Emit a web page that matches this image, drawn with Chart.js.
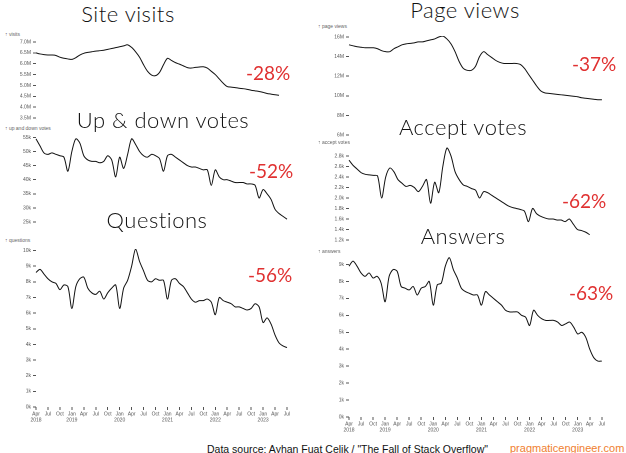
<!DOCTYPE html>
<html><head><meta charset="utf-8">
<script src="https://cdn.jsdelivr.net/npm/chart.js@4"></script>
<style>
body{margin:0;width:626px;height:453px;background:#fff;position:relative;overflow:hidden;font-family:"Liberation Sans",Arial,sans-serif}
canvas{position:absolute}
.t{position:absolute;font-family:Lato,sans-serif;font-weight:300;font-size:22px;color:#111;transform:translateX(-50%);white-space:nowrap;line-height:1;letter-spacing:0.5px}
.p{position:absolute;font-family:Lato,sans-serif;font-size:19px;color:#e03131;line-height:1}
.a{position:absolute;font-size:5px;color:#666;line-height:1;white-space:nowrap}
</style></head><body>
<script>
const monthNames=["Jan","Feb","Mar","Apr","May","Jun","Jul","Aug","Sep","Oct","Nov","Dec"];
const months=[];for(let i=0;i<64;i++){const m=(3+i)%12,y=2018+Math.floor((3+i)/12);months.push(m===0||i===0?[monthNames[m],String(y)]:monthNames[m]);}

const siteVisits=[6.5,6.45,6.42,6.4,6.4,6.38,6.3,6.25,6.22,6.2,6.28,6.4,6.48,6.52,6.55,6.58,6.6,6.62,6.66,6.7,6.74,6.78,6.82,6.87,6.75,6.55,6.3,5.95,5.65,5.48,5.45,5.6,5.95,6.25,6.15,6.05,5.98,5.9,5.82,5.8,5.83,5.85,5.86,5.8,5.65,5.5,5.3,5.1,4.95,4.92,4.9,4.87,4.85,4.82,4.78,4.75,4.72,4.68,4.63,4.6,4.57,4.55,null,null];
const pageViews=[15.2,15.1,15.0,14.95,14.9,14.9,14.9,14.8,14.6,14.5,14.5,14.8,15.0,15.2,15.3,15.35,15.4,15.5,15.5,15.6,15.7,15.8,16.0,16.1,15.8,15.3,14.5,13.5,12.8,12.6,12.6,13.0,14.0,14.5,14.2,13.9,13.6,13.4,13.3,13.3,13.3,13.3,13.2,12.8,12.2,11.6,11.0,10.5,10.3,10.25,10.2,10.15,10.1,10.05,10.0,9.95,9.9,9.8,9.75,9.7,9.65,9.6,9.6,null];
const votes=[54.5,52,49.5,49,49.5,49,48.5,48,43,50,54.5,53,48.5,47,46.5,46.5,46,46.5,48.5,47,41,48,44,49,54.5,52.5,50,48.5,48,49,48.5,47.5,43,48.5,49,48,47,46,45,44.5,44.5,44,43.5,43.5,38,43.5,41,40,40,39.5,39,39,39,38.5,38.5,38,33.5,36.5,35,33,29.5,28,27,26];
const acceptVotes=[2.72,2.62,2.55,2.48,2.45,2.44,2.43,2.42,2.0,2.4,2.57,2.5,2.35,2.28,2.22,2.24,2.2,2.12,2.22,2.35,1.9,2.3,2.1,2.6,2.95,2.8,2.5,2.35,2.25,2.22,2.18,2.15,2.0,2.12,2.1,2.05,2.0,1.95,1.9,1.85,1.82,1.8,1.78,1.75,1.55,1.8,1.7,1.65,1.62,1.6,1.6,1.58,1.58,1.55,1.6,1.5,1.4,1.38,1.35,1.3,null,null,null,null];
const questions=[8.6,8.8,8.5,8.2,8.0,7.9,7.5,7.8,7.7,6.3,7.7,8.2,8.3,7.6,7.3,7.2,7.4,6.9,7.3,7.6,7.8,6.3,7.6,8.1,9.0,10.1,9.3,8.7,8.1,8.0,8.2,8.1,8.1,6.9,8.1,8.2,7.9,7.7,7.3,6.9,6.7,6.8,6.8,6.9,6.7,5.9,7.0,6.8,6.7,6.6,6.4,6.4,6.3,6.2,6.3,6.6,6.4,5.4,5.7,5.3,4.6,4.1,3.9,3.8];
const answers=[8.9,9.2,8.9,8.5,8.3,8.5,8.2,8.3,7.9,6.8,8.3,8.7,8.6,7.7,7.6,7.5,7.7,7.2,7.6,7.7,8.0,6.6,7.8,7.9,8.9,9.4,8.7,8.2,7.6,7.4,7.3,7.2,7.2,6.6,7.4,7.2,7.0,6.8,6.6,6.3,6.2,6.2,6.2,6.0,5.9,5.4,6.3,6.0,5.8,5.7,5.7,5.7,5.6,5.4,5.5,5.6,5.3,4.9,5.0,4.7,4.0,3.5,3.3,3.3];

function mk(a){
  const yW=30, xH=a.xaxis?22:0, pad=4;
  const c=document.createElement('canvas');
  const cl=a.col, cw=a.right-cl+6;
  c.style.left=cl+'px';c.style.top=(a.top-pad)+'px';
  c.style.width=cw+'px';c.style.height=(a.bottom-a.top+pad*2+xH)+'px';
  document.body.appendChild(c);
  const tf={size:5,family:'Liberation Sans'};
  new Chart(c,{type:'line',data:{labels:months,datasets:[{data:a.data,borderColor:'#111',borderWidth:1,pointRadius:0,tension:0.3,spanGaps:false}]},
   options:{responsive:false,animation:false,events:[],devicePixelRatio:2,
    layout:{padding:{left:a.left-cl-yW,right:cw-a.right,top:pad,bottom:a.xaxis?0:pad}},
    plugins:{legend:{display:false},tooltip:{enabled:false}},
    scales:{
     x:{display:!!a.xaxis,offset:false,grid:{drawOnChartArea:false,tickLength:3,color:'#555'},border:{display:false},
        afterBuildTicks:s=>{s.ticks=s.ticks.filter(t=>t.value%3===0);},
        afterFit:s=>{s.height=xH;},
        ticks:{autoSkip:false,maxRotation:0,padding:1,font:tf,color:'#555',callback:function(v){return this.getLabelForValue(v);}}},
     y:{min:a.min,max:a.max,grid:{drawOnChartArea:false,tickLength:3,color:'#555'},border:{display:false},
        afterFit:s=>{s.width=yW;},
        afterBuildTicks:s=>{s.ticks=[];for(let v=a.tmin;v<=a.max+1e-9;v+=a.step)s.ticks.push({value:Math.round(v*100)/100});},
        ticks:{padding:2,font:tf,color:'#555',callback:v=>v.toFixed(a.dec)+a.suf}}}}});
  const d=document.createElement('div');d.className='a';d.textContent='↑ '+a.label;
  d.style.left=(cl+5)+'px';d.style.top=a.labelY+'px';document.body.appendChild(d);
}
mk({col:0,left:36,right:287,top:41,bottom:119,data:siteVisits,min:3.5,max:7.0,tmin:3.5,step:0.5,dec:1,suf:'M',label:'visits',labelY:32});
mk({col:0,left:36,right:287,top:135,bottom:223,data:votes,min:25,max:55.5,tmin:25,step:5,dec:0,suf:'k',label:'up and down votes',labelY:126});
mk({col:0,left:36,right:287,top:248,bottom:403,data:questions,min:0,max:10.1,tmin:0,step:1,dec:0,suf:'k',label:'questions',labelY:238,xaxis:true});
mk({col:313,left:349,right:600,top:35,bottom:136,data:pageViews,min:6,max:16.1,tmin:6,step:2,dec:0,suf:'M',label:'page views',labelY:24});
mk({col:313,left:349,right:600,top:146,bottom:241,data:acceptVotes,min:1.2,max:2.97,tmin:1.2,step:0.2,dec:1,suf:'k',label:'accept votes',labelY:140});
mk({col:313,left:349,right:600,top:255,bottom:413,data:answers,min:0,max:9.5,tmin:0,step:1,dec:0,suf:'k',label:'answers',labelY:249,xaxis:true});

const titles=[["Site visits",128,3],["Up & down votes",163,109],["Questions",157,209],["Page views",465,-1],["Accept votes",463,116],["Answers",463,225]];
titles.forEach(t=>{const d=document.createElement('div');d.className='t';d.textContent=t[0];d.style.left=t[1]+'px';d.style.top=t[2]+'px';document.body.appendChild(d);});
const pcts=[["-28%",246,63],["-52%",249,161],["-56%",248,265],["-37%",572,54],["-62%",562,191],["-63%",569,283]];
pcts.forEach(t=>{const d=document.createElement('div');d.className='p';d.textContent=t[0];d.style.left=t[1]+'px';d.style.top=t[2]+'px';document.body.appendChild(d);});
</script>
<div style="position:absolute;left:207px;top:443px;font-size:10.5px;color:#111;white-space:nowrap">Data source: Ayhan Fuat Celik / "The Fall of Stack Overflow"</div>
<div style="position:absolute;left:510px;top:442px;font-size:11px;color:#f08030;text-decoration:underline;white-space:nowrap">pragmaticengineer.com</div>
</body></html>
